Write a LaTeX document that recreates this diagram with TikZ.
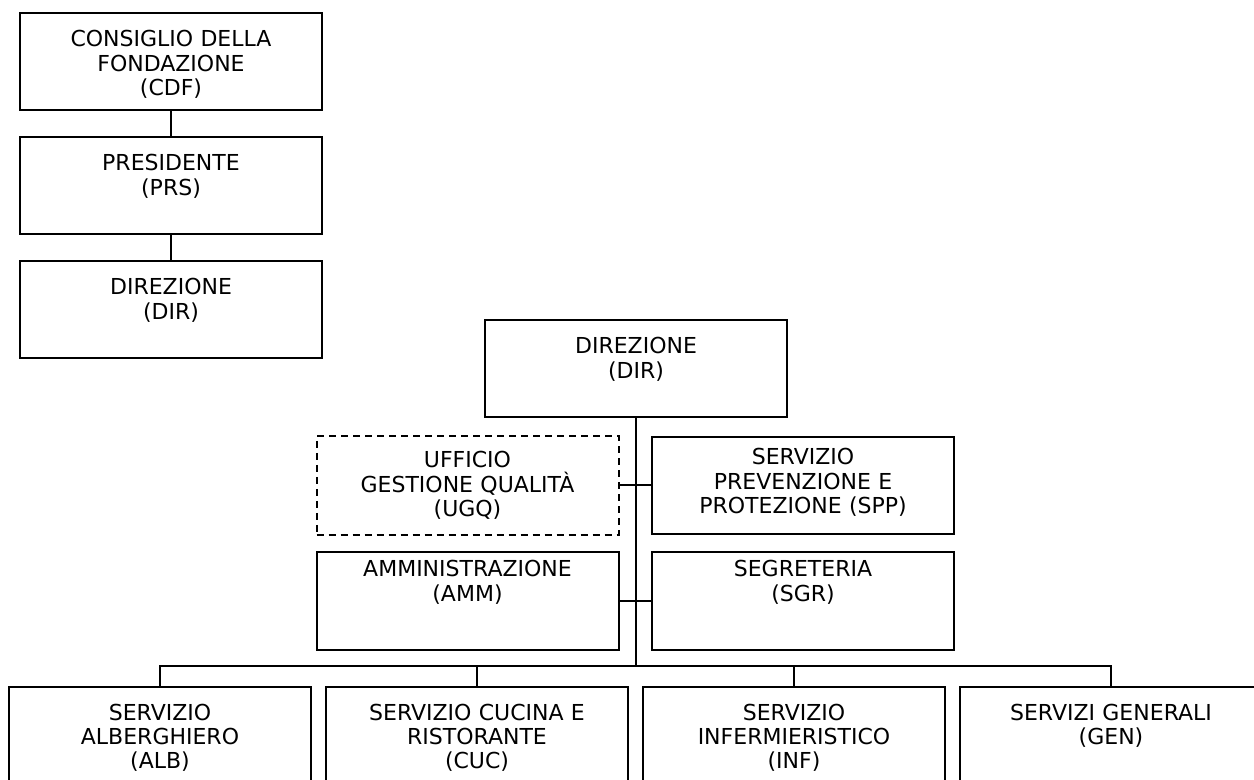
\documentclass[tikz,border=0pt]{standalone}
\usepackage{fontspec}
\setmainfont{DejaVu Sans}
\usetikzlibrary{positioning}

\begin{document}
\begin{tikzpicture}[x=0.5pt,y=-0.5pt,on grid,node distance=62pt,
	font=\fontsize{11}{12.25}\selectfont,
	office/.style 2 args={draw, line width=1pt, text width=151pt, align=center, inner sep=0pt, text height=#1, text depth=#2},
	staff/.style={office={16pt}{33.5pt}, dash pattern=on 3.5pt off 2.5pt},
	link/.style={draw, line width=1pt}]
	\useasboundingbox (0,0) rectangle (1254,780);
	% vertice
	\node[office={17pt}{31.5pt}] (cdf) at (171,61.5) {CONSIGLIO DELLA\\FONDAZIONE\\(CDF)};
	\node[office={17pt}{31.5pt}, below = of cdf] (prs) {PRESIDENTE\\(PRS)};
	\node[office={17pt}{31.5pt}, below = of prs] (dir) {DIREZIONE\\(DIR)};
	% direzione e staff
	\node[office={17pt}{31.5pt}] (dir2) at (636,368.5) {DIREZIONE\\(DIR)};
	\node[staff] (ugq) at (467.5,485.5) {UFFICIO\\GESTIONE QUALITÀ\\(UGQ)};
	\node[office={14pt}{34.5pt}, right = 167.75pt of ugq] (spp) {SERVIZIO\\PREVENZIONE E\\PROTEZIONE (SPP)};
	\node[office={12.5pt}{36.5pt}, below = 57.75pt of ugq] (amm) {AMMINISTRAZIONE\\(AMM)};
	\node[office={12.5pt}{36.5pt}, right = 167.75pt of amm] (sgr) {SEGRETERIA\\(SGR)};
	% servizi
	\node[office={16.5pt}{32pt}] (alb) at (160,735.5) {SERVIZIO\\ALBERGHIERO\\(ALB)};
	\node[office={16.5pt}{32pt}, right = 158.5pt of alb] (cuc) {SERVIZIO CUCINA E\\RISTORANTE\\(CUC)};
	\node[office={16.5pt}{32pt}, right = 158.5pt of cuc] (inf) {SERVIZIO\\INFERMIERISTICO\\(INF)};
	\node[office={16.5pt}{32pt}, right = 158.5pt of inf] (gen) {SERVIZI GENERALI\\(GEN)};
	\coordinate (bus) at (636,666);

	\path[link] (cdf) edge (prs)
	(prs) edge (dir)
	(ugq) edge (spp)
	(amm) edge (sgr);
	\draw[link] (dir2) -- (bus)
	(bus) -| (alb) (bus) -| (cuc)
	(bus) -| (inf) (bus) -| (gen);
\end{tikzpicture}
\end{document}
